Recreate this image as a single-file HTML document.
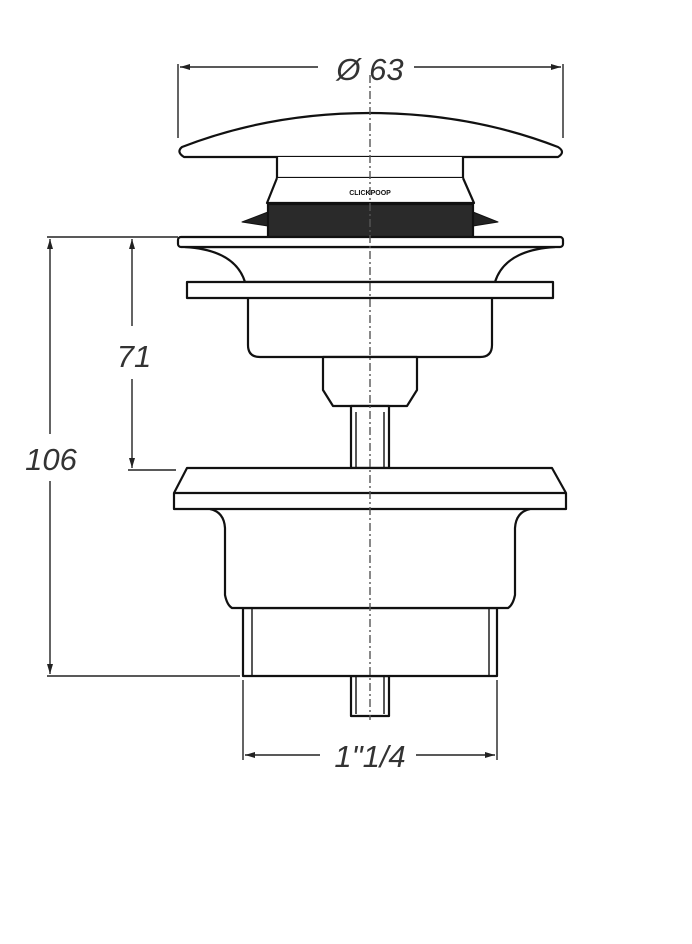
<!DOCTYPE html>
<html><head><style>body{margin:0;background:#fff}svg{display:block}</style></head><body>
<svg width="692" height="944" viewBox="0 0 692 944" xmlns="http://www.w3.org/2000/svg">
<defs><marker id="a" viewBox="0 0 10 6" refX="10" refY="3" markerWidth="10" markerHeight="6" orient="auto-start-reverse" markerUnits="userSpaceOnUse"><path d="M0,0L10,3L0,6z" fill="#222"/></marker></defs>
<g stroke="#222" fill="none" stroke-width="1.4">
<!-- dims -->
<line x1="178" y1="64" x2="178" y2="138"/><line x1="563" y1="64" x2="563" y2="138"/>
<line x1="180" y1="67" x2="318" y2="67" marker-start="url(#a)"/><line x1="414" y1="67" x2="561" y2="67" marker-end="url(#a)"/>
<line x1="47" y1="237" x2="178" y2="237"/><line x1="128" y1="470" x2="176" y2="470"/><line x1="47" y1="676" x2="240" y2="676"/>
<line x1="132" y1="239" x2="132" y2="326" marker-start="url(#a)"/><line x1="132" y1="379" x2="132" y2="468" marker-end="url(#a)"/>
<line x1="50" y1="239" x2="50" y2="434" marker-start="url(#a)"/><line x1="50" y1="481" x2="50" y2="674" marker-end="url(#a)"/>
<line x1="243" y1="680" x2="243" y2="760"/><line x1="497" y1="680" x2="497" y2="760"/>
<line x1="245" y1="755" x2="320" y2="755" marker-start="url(#a)"/><line x1="416" y1="755" x2="495" y2="755" marker-end="url(#a)"/>
</g>
<g stroke="#111" fill="#fff" stroke-width="2.2" stroke-linejoin="round">
<!-- cap -->
<path d="M184,157 Q176,152 182,147 Q270,113 370,113 Q470,113 558,147 Q566,152 558,157 Z"/>
<path d="M277,157 L277,178 L463,178 L463,157"/>
<path d="M277,178 L267,203 L474,203 L463,178"/>
<path d="M268,212 L242,222 L268,226 Z M473,212 L498,222 L473,226 Z" fill="#222" stroke-width="1"/>
<rect x="268" y="204" width="205" height="34" fill="#2a2a2a"/>
<!-- upper body -->
<path d="M248,298 L248,345 Q248,357 260,357 L480,357 Q492,357 492,345 L492,298"/>
<path d="M323,357 L323,390 L333,406 L407,406 L417,390 L417,357 Z"/>
<path d="M185,247 Q235,250 245,282 L495,282 Q505,250 555,247 Z"/>
<rect x="178" y="237" width="385" height="10" rx="3"/>
<rect x="187" y="282" width="366" height="16"/>
<!-- stem -->
<rect x="351" y="406" width="38" height="62"/>
<line x1="356" y1="412" x2="356" y2="468" stroke-width="1.4"/><line x1="384" y1="412" x2="384" y2="468" stroke-width="1.4"/>
<!-- lower -->
<rect x="351" y="676" width="38" height="40"/>
<line x1="356" y1="676" x2="356" y2="714" stroke-width="1.4"/><line x1="384" y1="676" x2="384" y2="714" stroke-width="1.4"/>
<rect x="243" y="608" width="254" height="68"/>
<line x1="252" y1="608" x2="252" y2="676" stroke-width="1.4"/><line x1="489" y1="608" x2="489" y2="676" stroke-width="1.4"/>
<path d="M210,509 Q224,512 225,528 L225,595 Q227,605 232,608 L508,608 Q513,605 515,595 L515,528 Q516,512 530,509"/>
<path d="M187,468 L552,468 L566,493 L566,509 L174,509 L174,493 Z"/>
<line x1="174" y1="493" x2="566" y2="493"/>
</g>
<line x1="370" y1="75" x2="370" y2="720" stroke="#555" stroke-width="1.4" stroke-dasharray="8,3,2,3"/>
<g font-family="Liberation Sans, sans-serif" font-style="italic" fill="#333" text-anchor="middle">
<text x="370" y="80" font-size="31">Ø 63</text>
<text x="134" y="367" font-size="31">71</text>
<text x="51" y="470" font-size="31">106</text>
<text x="370" y="767" font-size="31">1"1/4</text>
</g>
<text x="370" y="195" font-family="Liberation Sans, sans-serif" font-size="7" font-weight="bold" text-anchor="middle" fill="#111">CLICKPOOP</text>
</svg>
</body></html>
